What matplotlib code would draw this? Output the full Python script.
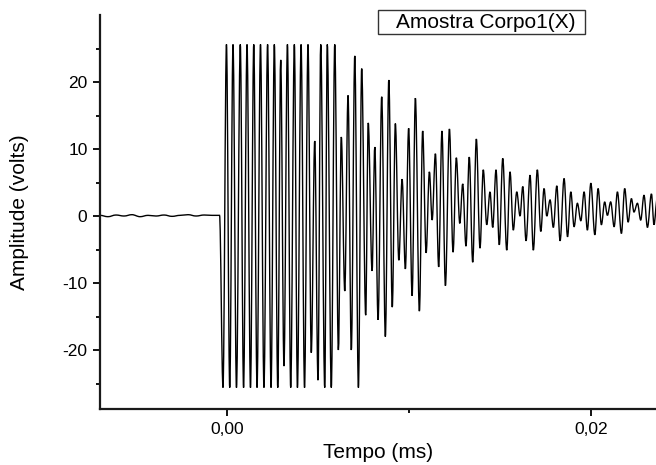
import numpy as np
import matplotlib
matplotlib.use("Agg")
import matplotlib.pyplot as plt
from matplotlib.ticker import FixedLocator, FuncFormatter
from matplotlib.patches import Rectangle, PathPatch
from matplotlib.path import Path

plt.rcParams['font.family'] = ['Liberation Sans', 'DejaVu Sans']

# sinal antes do disparo (ms, volts)
t_pre = [-0.00698, -0.00654, -0.00610, -0.00566, -0.00522, -0.00478, -0.00434,
         -0.00390, -0.00346, -0.00302, -0.00258, -0.00214, -0.00170, -0.00126,
         -0.00082, -0.00041]
v_pre = [0.1, -0.1, 0.15, 0.0, 0.2, -0.1, 0.1, 0.0, 0.15, -0.05, 0.1, 0.2,
         0.0, 0.15, 0.1, 0.1]

# picos e vales (ms, volts)
t_pk = [-0.00022, -0.00003, 0.00015, 0.00033, 0.00052, 0.00073, 0.00091, 0.00110,
        0.00129, 0.00147, 0.00165, 0.00184, 0.00203, 0.00223, 0.00242, 0.00260,
        0.00279, 0.00295, 0.00313, 0.00332, 0.00350, 0.00370, 0.00387, 0.00407,
        0.00426, 0.00445, 0.00463, 0.00482, 0.00500, 0.00515, 0.00537, 0.00551,
        0.00573, 0.00592, 0.00612, 0.00628, 0.00647, 0.00665, 0.00683, 0.00702,
        0.00722, 0.00740, 0.00762, 0.00776, 0.00797, 0.00812, 0.00830, 0.00850,
        0.00870, 0.00889, 0.00908, 0.00925, 0.00944, 0.00962, 0.00980, 0.00998,
        0.01017, 0.01035, 0.01057, 0.01075, 0.01094, 0.01112, 0.01127, 0.01145,
        0.01163, 0.01181, 0.01200, 0.01222, 0.01242, 0.01260, 0.01279, 0.01295,
        0.01313, 0.01331, 0.01350, 0.01370, 0.01390, 0.01408, 0.01427, 0.01445,
        0.01460, 0.01478, 0.01496, 0.01515, 0.01537, 0.01555, 0.01573, 0.01592,
        0.01610, 0.01625, 0.01643, 0.01665, 0.01683, 0.01705, 0.01724, 0.01742,
        0.01757, 0.01775, 0.01793, 0.01812, 0.01830, 0.01852, 0.01871, 0.01889,
        0.01907, 0.01925, 0.01944, 0.01962, 0.01980, 0.01999, 0.02021, 0.02039,
        0.02057, 0.02075, 0.02090, 0.02108, 0.02127, 0.02145, 0.02167, 0.02185,
        0.02204, 0.02222, 0.02236, 0.02255, 0.02273, 0.02291, 0.02310, 0.02332,
        0.02346, 0.02363]
v_pk = [-25.6, 25.6, -25.6, 25.6, -25.6, 25.6, -25.6, 25.6,
        -25.6, 25.6, -25.6, 25.6, -25.6, 25.6, -25.6, 25.6,
        -25.6, 23.3, -22.4, 25.6, -25.6, 25.6, -25.6, 25.6,
        -25.6, 25.6, -20.4, 11.2, -24.5, 25.6, -25.6, 25.6,
        -25.6, 25.6, -20.0, 11.8, -11.2, 18.0, -20.0, 23.9,
        -25.6, 22.0, -14.8, 13.9, -8.2, 10.3, -15.5, 17.8,
        -18.0, 20.3, -13.6, 13.8, -6.6, 5.5, -7.9, 13.1,
        -11.9, 17.6, -14.2, 12.7, -5.5, 6.6, -0.6, 9.3,
        -7.6, 12.7, -10.4, 13.0, -5.4, 8.7, -1.1, 4.8,
        -4.5, 8.8, -6.9, 11.5, -4.8, 6.9, -1.3, 3.6,
        -1.7, 6.9, -4.3, 8.6, -5.1, 6.6, -2.1, 3.6,
        0.0, 4.4, -3.7, 6.1, -5.1, 6.9, -2.3, 4.1,
        0.0, 2.4, -1.7, 4.5, -3.7, 5.6, -3.1, 3.6,
        -1.6, 1.9, -0.7, 3.6, -2.1, 4.9, -2.8, 4.1,
        -1.3, 2.1, 0.1, 2.1, -1.6, 3.6, -2.6, 4.1,
        -0.9, 2.6, 0.6, 1.9, -0.6, 3.1, -1.7, 3.3,
        -1.3, 2.5]

t = t_pre + t_pk
v = v_pre + v_pk

fig = plt.figure(figsize=(6.56, 4.65), dpi=100)
ax = fig.add_axes([100/656, 56/465, 556/656, 394/465])

# curva suave entre picos e vales (bezier com tangente horizontal nos extremos)
verts = [(t[0], v[0])]
codes = [Path.MOVETO]
for i in range(1, len(t)):
    dt = t[i] - t[i-1]
    verts += [(t[i-1] + 0.36*dt, v[i-1]), (t[i] - 0.36*dt, v[i]), (t[i], v[i])]
    codes += [Path.CURVE4] * 3
ax.add_patch(PathPatch(Path(verts, codes), fill=False, edgecolor='black', lw=1.0))

ax.set_xlim(-0.006978, 0.02357)
ax.set_ylim(-28.8, 30.0)

for s in ['top', 'right']:
    ax.spines[s].set_visible(False)
for s in ['left', 'bottom']:
    ax.spines[s].set_linewidth(1.6)
    ax.spines[s].set_color('#1a1a1a')

ax.xaxis.set_major_locator(FixedLocator([0.0, 0.02]))
ax.xaxis.set_minor_locator(FixedLocator([0.01]))
ax.yaxis.set_major_locator(FixedLocator([-20, -10, 0, 10, 20]))
ax.yaxis.set_minor_locator(FixedLocator([-25, -15, -5, 5, 15, 25]))
ax.xaxis.set_major_formatter(FuncFormatter(lambda x, p: ('%.2f' % x).replace('.', ',')))
ax.yaxis.set_major_formatter(FuncFormatter(lambda y, p: '%d' % y))

ax.tick_params(which='major', direction='out', length=5, width=1.3, labelsize=12.5, pad=4)
ax.tick_params(which='minor', direction='out', length=3, width=1.3)

ax.set_xlabel('Tempo (ms)', fontsize=15, labelpad=5)
ax.set_ylabel('Amplitude (volts)', fontsize=15, labelpad=24)

# caixa da legenda
fig.patches.append(Rectangle((378/656, 1 - 34/465), 207/656, 24/465,
                             transform=fig.transFigure, fill=False,
                             edgecolor='#333333', lw=1.0))
fig.text(486/656, 1 - 22.5/465, 'Amostra Corpo1(X)', ha='center', va='center',
         fontsize=15)

fig.savefig('out.png', dpi=100)
